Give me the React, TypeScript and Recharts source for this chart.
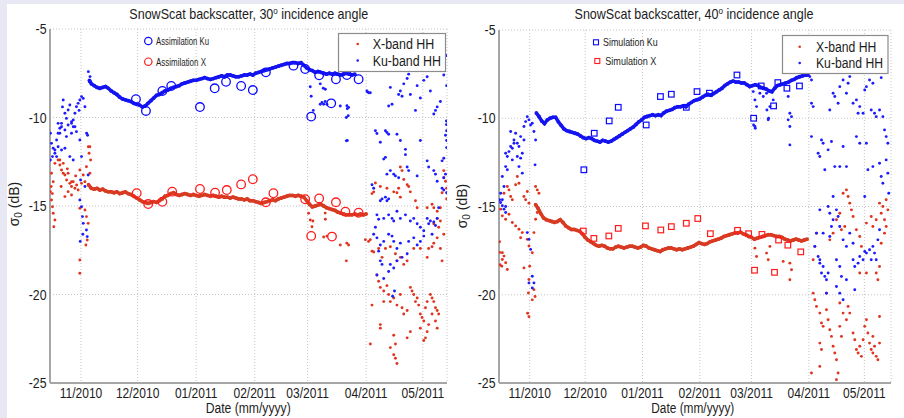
import React from 'react';
import { ScatterChart, Scatter, XAxis, YAxis, CartesianGrid, ReferenceLine } from 'recharts';

type P = [number, number];

// x = days since 2010-11-01, y = sigma0 (dB)
const monthTicks = [0, 30, 61, 92, 120, 151, 181];
const monthLabels = ['11/2010', '12/2010', '01/2011', '02/2011', '03/2011', '04/2011', '05/2011'];
const dbTicks = [-25, -20, -15, -10, -5];

// ---------------- 30 deg panel ----------------
const leftKuBand: P[] = [[4.5,-7.9],[5.5,-8.1],[7,-8.2],[8.5,-8.3],[10,-8.35],[11.5,-8.3],[13,-8.25],[14.5,-8.35],[16,-8.5],[17.5,-8.6],[19,-8.7],[20.5,-8.85],[22,-8.95],[23.5,-9.0],[25,-9.05],[26.5,-9.1],[28,-9.2],[29.5,-9.25],[31,-9.3],[32.5,-9.4],[34,-9.35],[35.5,-9.2],[37,-9.05],[38.5,-8.9],[40,-8.75],[41.5,-8.7],[43,-8.6],[44.5,-8.5],[46,-8.45],[47.5,-8.35],[49,-8.3],[50.5,-8.25],[52,-8.2],[53.5,-8.1],[55,-8.05],[56.5,-8.0],[58,-7.95],[59.5,-7.9],[61,-7.9],[62.5,-7.85],[64,-7.8],[65.5,-7.75],[67,-7.8],[68.5,-7.85],[70,-7.8],[71.5,-7.75],[73,-7.7],[74.5,-7.65],[76,-7.7],[77.5,-7.6],[79,-7.6],[80.5,-7.65],[82,-7.7],[83.5,-7.7],[85,-7.65],[86.5,-7.6],[88,-7.6],[89.5,-7.55],[91,-7.6],[92.5,-7.5],[94,-7.45],[95.5,-7.4],[97,-7.35],[98.5,-7.3],[100,-7.25],[101.5,-7.2],[103,-7.15],[104.5,-7.1],[106,-7.05],[107.5,-7.0],[109,-6.95],[110.5,-6.95],[112,-6.9],[113.5,-6.9],[115,-6.95],[116.5,-6.9],[118,-7.05],[119.5,-7.2],[121,-7.3],[122.5,-7.35],[124,-7.45],[125.5,-7.4],[127,-7.45],[128.5,-7.5],[130,-7.55],[131.5,-7.5],[133,-7.55],[134.5,-7.5],[136,-7.55],[137.5,-7.6],[139,-7.55],[140.5,-7.5],[142,-7.55],[143.5,-7.6],[145,-7.55]];

const leftXBand: P[] = [[4,-13.8],[5.5,-14.0],[7,-14.05],[8.5,-14.0],[10,-14.1],[11.5,-14.05],[13,-14.15],[14.5,-14.2],[16,-14.2],[17.5,-14.25],[19,-14.2],[20.5,-14.3],[22,-14.25],[23.5,-14.2],[25,-14.3],[26.5,-14.35],[28,-14.45],[29.5,-14.55],[31,-14.65],[32.5,-14.75],[34,-14.8],[35.5,-14.85],[37,-14.8],[38.5,-14.75],[40,-14.8],[41.5,-14.7],[43,-14.6],[44.5,-14.45],[46,-14.4],[47.5,-14.3],[49,-14.25],[50.5,-14.35],[52,-14.4],[53.5,-14.35],[55,-14.3],[56.5,-14.35],[58,-14.4],[59.5,-14.35],[61,-14.4],[62.5,-14.45],[64,-14.4],[65.5,-14.35],[67,-14.4],[68.5,-14.45],[70,-14.4],[71.5,-14.45],[73,-14.5],[74.5,-14.45],[76,-14.5],[77.5,-14.5],[79,-14.55],[80.5,-14.5],[82,-14.55],[83.5,-14.6],[85,-14.6],[86.5,-14.65],[88,-14.6],[89.5,-14.7],[91,-14.7],[92.5,-14.75],[94,-14.8],[95.5,-14.85],[97,-14.8],[98.5,-14.75],[100,-14.7],[101.5,-14.65],[103,-14.7],[104.5,-14.6],[106,-14.55],[107.5,-14.5],[109,-14.45],[110.5,-14.4],[112,-14.4],[113.5,-14.45],[115,-14.4],[116.5,-14.45],[118,-14.5],[119.5,-14.7],[121,-14.9],[122.5,-15.05],[124,-15.0],[125.5,-14.95],[127,-14.9],[128.5,-15.0],[130,-15.1],[131.5,-15.15],[133,-15.2],[134.5,-15.25],[136,-15.35],[137.5,-15.4],[139,-15.45],[140.5,-15.5],[142,-15.5],[143.5,-15.5],[145,-15.45],[146.5,-15.5],[148,-15.45],[149.5,-15.5],[151,-15.45]];

const leftKuScatter: P[] = [
  [-15.6,-11.46],[-14.7,-11.74],[-13.8,-12.02],[-15.1,-12.21],[-12.9,-11.27],[-12.1,-10.89],[-11.2,-10.61],[-10.3,-10.33],[-9.4,-9.01],[-8.5,-9.76],[-7.7,-10.05],[-6.8,-9.58],[-5.9,-9.29],[-5.0,-10.33],[-4.1,-10.14],[-3.2,-9.76],[-2.4,-9.39],[-1.5,-9.2],[-0.6,-9.01],[0.3,-8.82],[1.2,-8.92],[2.1,-9.39],[-3.2,-10.52],[-2.4,-10.8],[-7.7,-11.08],[-5.0,-10.89],[-0.6,-11.27],[3.0,-10.89],[3.9,-7.41],[4.8,-7.69],[4.4,-7.98],[-12.1,-11.65],[-10.3,-11.84],[-8.5,-11.74],[-5.9,-12.21],[-4.1,-12.4],[0.3,-12.21],[-16.2,-10.89],[-16.2,-12.4],
  [-12.1,-10.33],[-10.3,-10.52],[-8.5,-10.71],[-6.8,-10.42],[-5.0,-10.24],[-4.1,-10.52],[-11.2,-10.89],[-13.8,-11.84],[-12.9,-12.21],[-9.8,-9.4],[-1.0,-9.6],
  [-0.6,-14.66],[0.3,-15.04],[0.8,-15.6],[1.2,-15.98],[2.9,-16.36],[3.3,-16.73],[-0.2,-13.53],[2.1,-13.9],[3.5,-11.0],[3.8,-13.25],[1.0,-16.6],[-0.4,-17.0],
  [121.4,-8.26],[121.9,-8.8],[123,-9.6],[128.3,-8.35],[129.3,-9.1],[137.3,-9.35],[141,-9.5],[141.5,-9.9],[141,-11.3],[126.7,-9.25],[151.6,-8.55],[126.7,-8.1],[129.4,-8.4],[127.6,-9.15],[128.5,-9.25],[130.2,-9.25],[140.8,-9.34],[141.7,-9.43],[140.5,-10.0],[140.5,-11.32],
  [152.3,-8.6],[153.2,-8.6],[151.4,-8.5],[163.8,-8.3],[164.7,-9.25],[162.9,-9.35],[169.1,-8.5],[168.2,-8.7],[170,-8.8],[170.9,-8.1],[172.7,-7.8],[174.4,-8.7],[173.5,-7.55],[177.1,-9.6],[178,-8.2],[179.7,-8.9],[181.5,-7.9],[183.3,-7.7],[185,-8.5],[186.8,-9.8],[187.7,-9.6],[188.6,-9.4],[190.3,-9.1],[192.1,-7.6],[193.5,-10.2],[193.5,-10.4],[193.6,-10.75],[193,-11.0],[193.6,-11.3],[193.6,-11.7],[192.1,-12.3],[191.2,-12.45],[193,-13.2],[192.1,-13.4],[191.2,-14.0],[192.1,-14.1],[193.6,-14.25],[193.5,-6.5],[193.6,-8.2],
  [155.9,-10.75],[156.7,-10.9],[158.5,-11.4],[161.2,-10.75],[162,-10.85],[162.9,-10.95],[160.3,-12.35],[161.2,-12.25],[167.3,-10.95],[169.1,-11.3],[171.8,-11.8],[171.8,-12.1],[163.8,-13.0],[162,-13.2],[165.6,-13.2],[166.5,-13.3],[168.2,-13.4],[172.7,-12.8],[173.5,-13.0],[178,-13.3],[179.7,-11.3],[183.3,-12.45],[184.1,-12.8],[186.8,-13.0],[187.7,-13.2],[188.6,-13.6],
  [154.1,-13.8],[155,-14.0],[158.5,-14.7],[159.4,-14.6],[161.2,-14.5],[162,-14.7],[162.9,-14.6],[156.7,-15.5],[157.6,-15.75],[160.3,-15.7],[162.9,-15.5],[164.7,-15.7],[165.6,-15.85],[167.3,-15.3],[169.1,-15.7],[171.8,-15.5],[174.4,-15.85],[176.2,-15.7],[178,-16.0],[179.7,-16.2],[181.5,-16.4],[183.3,-15.7],[184.1,-16.0],[185,-15.85],[186.8,-15.9],[187.7,-16.1],[188.6,-15.7],[189.4,-15.1],[185.9,-16.6],
  [155.9,-16.2],[155,-16.6],[156.7,-16.8],[158.5,-17.2],[157.6,-17.55],[160.3,-17.0],[162.9,-16.6],[164.7,-16.7],[165.6,-17.0],[167.3,-17.4],[169.1,-17.1],[170,-17.9],[172.7,-17.7],[173.5,-17.0],[176.2,-16.8],[178,-17.2],[179.7,-17.0],[181.5,-16.7],[158.5,-18.1],[159.4,-18.3],[163.8,-18.3],[165.6,-18.5],[167.3,-18.1],[156.7,-18.9],[160.3,-19.1],[162.9,-18.7],[165,-20.1],[166,-19.8]
];

const leftXScatter: P[] = [
  [-12.1,-12.4],[-11.2,-12.68],[-10.3,-12.97],[-9.4,-12.59],[-8.5,-13.25],[-7.6,-13.53],[-6.8,-13.15],[-5.9,-13.72],[-5.0,-13.9],[-4.1,-13.63],[-3.2,-14.0],[-2.3,-13.81],[-1.5,-14.1],[-6.8,-14.19],[-5.0,-14.38],[-8.5,-14.47],[-13.8,-12.59],[-15.6,-13.15],[-14.7,-13.63],[-16.2,-14.19],[-15.6,-14.66],[-15.1,-15.04],[-14.7,-15.41],[-13.8,-15.79],[-14.4,-16.17],[4.7,-11.65],[4.3,-12.02],[5.1,-12.4],[4.7,-13.15],[2.9,-12.78],[1.2,-13.25],[0.3,-13.72],[-0.6,-12.97],[2.1,-15.23],[2.9,-15.6],[3.8,-15.98],[-0.6,-15.13],[-0.6,-18.05],[-0.6,-18.8],[2.6,-17.2],[3.3,-16.92],[-11.2,-12.4],[-9.4,-13.15],[-5.0,-13.63],[2.1,-13.63],[3.9,-11.65],[-15.8,-13.9],[-15.2,-14.3],[-10.5,-13.9],[-2.8,-13.3],[-7.2,-12.9],
  [120.5,-15.41],[121.4,-15.79],[122.3,-16.17],[129.3,-15.4],[122.8,-15.85],[129.4,-15.75],[137.3,-17.2],[140.8,-17.1],[141.7,-17.2],[140.5,-18.1],[128.5,-16.75],[130.2,-16.7],
  [169.1,-12.8],[170,-13.0],[170.9,-13.5],[172.7,-13.8],[173.5,-13.9],[168.2,-14.0],[167.3,-14.25],[169.1,-14.5],[158.5,-13.9],[155.9,-13.7],[155,-14.2],[154.1,-14.3],[162,-14.0],[165.6,-14.2],[174.4,-14.2],[177.1,-14.7],[178,-15.1],[183.3,-15.1],[185.9,-14.9],[186.8,-15.1],[188.6,-15.3],[190.3,-15.1],[192.1,-13.4],[193,-13.6],[193.6,-14.0],[192.1,-13.0],[191.2,-14.25],[193.6,-14.6],[150.6,-16.9],[152.3,-17.0],[153.2,-16.9],
  [154.1,-17.55],[155,-17.6],[157.6,-17.4],[159.4,-17.9],[161.2,-17.4],[163.8,-17.3],[166.5,-17.7],[167.3,-18.1],[169.1,-17.9],[170.9,-18.3],[172.7,-18.1],[176.2,-17.4],[179.7,-17.4],[183.3,-17.9],[184.1,-17.4],[185.9,-17.3],[186.8,-17.1],[188.6,-16.8],[189.4,-16.2],[190.3,-17.4],[191.2,-18.1],[192.1,-16.6],[190.3,-15.85],[188.6,-15.7],[186.8,-16.0],
  [156.7,-18.9],[157.6,-19.25],[158.5,-19.6],[160.3,-19.8],[162,-19.5],[162.9,-20.0],[163.8,-20.4],[165.6,-20.2],[167.3,-20.6],[169.1,-20.0],[170,-20.75],[170.9,-21.1],[172.7,-20.9],[174.4,-19.6],[175.3,-19.8],[176.2,-20.0],[177.1,-20.4],[178,-20.2],[178.8,-20.6],[179.7,-21.1],[180.6,-21.3],[181.5,-21.5],[182.4,-20.75],[183.3,-20.4],[184.1,-21.7],[185,-20.0],[185.9,-20.2],[186.8,-20.4],[187.7,-20.75],[188.6,-20.9],[189.4,-21.1],[187.7,-21.5],[188.6,-21.9],[185.9,-21.1],[183.3,-22.1],[182.4,-22.45],[181.5,-22.6],[179.7,-21.9],[174.4,-22.1],[172.7,-22.45],[165.6,-22.3],[166.5,-22.8],[165.6,-23.4],[166.5,-23.6],[167.3,-23.9],[163.8,-23.0],[158.5,-21.7],[158.5,-21.9],[154.1,-20.6],[153.2,-22.8],[160.3,-20.4]
];

const leftKuAssim: P[] = [[29.1,-8.97],[34.4,-9.63],[43.1,-8.5],[47.8,-8.22],[63,-9.41],[70.8,-8.35],[76.8,-7.98],[84.8,-8.22],[91,-8.45],[97.9,-7.45],[112.5,-7.07],[118.7,-7.26],[126.1,-7.62],[135,-7.84],[140.8,-7.6],[147,-7.84],[121.9,-9.95],[132.5,-9.2]];
const leftXAssim: P[] = [[29.5,-14.28],[35.6,-14.89],[43.1,-14.76],[48.3,-14.19],[63,-14.04],[71,-14.25],[77.2,-14.1],[84.8,-13.78],[91,-13.49],[97.9,-14.79],[101.9,-14.28],[118.7,-14.62],[126.1,-14.57],[135,-14.79],[121.9,-16.69],[132.9,-16.73],[140,-15.32],[147,-15.38]];

// ---------------- 40 deg panel ----------------
const rightKuBand: P[] = [[3.6,-9.7],[5,-9.9],[6.5,-10.15],[8,-10.3],[9.5,-10.1],[11,-10.0],[12.5,-9.95],[14,-9.95],[15.5,-10.2],[17,-10.4],[18.5,-10.6],[20,-10.7],[21.5,-10.75],[23,-10.8],[24.5,-10.85],[26,-10.9],[27.5,-11.0],[29,-11.1],[30.5,-11.15],[32,-11.1],[33.5,-11.15],[35,-11.25],[36.5,-11.3],[38,-11.35],[39.5,-11.25],[41,-11.3],[42.5,-11.35],[44,-11.3],[45.5,-11.2],[47,-11.1],[48.5,-11.0],[50,-10.9],[51.5,-10.8],[53,-10.7],[54.5,-10.6],[56,-10.5],[57.5,-10.35],[59,-10.2],[60.5,-10.1],[62,-9.95],[63.5,-9.9],[65,-9.85],[66.5,-9.8],[68,-9.85],[69.5,-9.8],[71,-9.85],[72.5,-9.7],[74,-9.6],[75.5,-9.55],[77,-9.5],[78.5,-9.4],[80,-9.35],[81.5,-9.35],[83,-9.3],[84.5,-9.35],[86,-9.2],[87.5,-9.1],[89,-9.0],[90.5,-8.95],[92,-8.9],[93.5,-8.8],[95,-8.7],[96.5,-8.65],[98,-8.7],[99.5,-8.6],[101,-8.5],[102.5,-8.4],[104,-8.3],[105.5,-8.15],[107,-8.05],[108.5,-7.95],[110,-7.9],[111.5,-7.95],[113,-7.95],[114.5,-8.0],[116,-8.0],[117.5,-8.1],[119,-8.2],[120.5,-8.15],[122,-8.1],[123.5,-8.15],[125,-8.25],[126.5,-8.3],[128,-8.35],[129.5,-8.45],[131,-8.5],[132.5,-8.3],[134,-8.15],[135.5,-8.1],[137,-8.05],[138.5,-8.0],[140,-7.95],[141.5,-7.85],[143,-7.8],[144.5,-7.7],[146,-7.65],[147.5,-7.6],[149,-7.55],[150.5,-7.55]];

const rightXBand: P[] = [[3.2,-14.9],[4.5,-15.1],[6,-15.4],[7.5,-15.65],[9,-15.75],[10.5,-15.8],[12,-15.85],[13.5,-15.9],[15,-15.85],[16.5,-15.75],[18,-15.9],[19.5,-16.1],[21,-16.2],[22.5,-16.3],[24,-16.3],[25.5,-16.35],[27,-16.4],[28.5,-16.55],[30,-16.75],[31.5,-16.9],[33,-17.0],[34.5,-17.1],[36,-17.2],[37.5,-17.25],[39,-17.2],[40.5,-17.25],[42,-17.35],[43.5,-17.4],[45,-17.4],[46.5,-17.3],[48,-17.25],[49.5,-17.3],[51,-17.35],[52.5,-17.3],[54,-17.25],[55.5,-17.25],[57,-17.3],[58.5,-17.35],[60,-17.3],[61.5,-17.2],[63,-17.25],[64.5,-17.35],[66,-17.4],[67.5,-17.45],[69,-17.5],[70.5,-17.55],[72,-17.45],[73.5,-17.4],[75,-17.35],[76.5,-17.35],[78,-17.4],[79.5,-17.45],[81,-17.4],[82.5,-17.45],[84,-17.4],[85.5,-17.35],[87,-17.3],[88.5,-17.25],[90,-17.15],[91.5,-17.05],[93,-17.1],[94.5,-17.15],[96,-17.1],[97.5,-17.0],[99,-16.95],[100.5,-16.9],[102,-16.85],[103.5,-16.8],[105,-16.7],[106.5,-16.65],[108,-16.6],[109.5,-16.55],[111,-16.5],[112.5,-16.5],[114,-16.45],[115.5,-16.55],[117,-16.6],[118.5,-16.7],[120,-16.75],[121.5,-16.85],[123,-16.8],[124.5,-16.75],[126,-16.7],[127.5,-16.65],[129,-16.6],[130.5,-16.6],[132,-16.65],[133.5,-16.7],[135,-16.7],[136.5,-16.75],[138,-16.85],[139.5,-16.9],[141,-16.95],[142.5,-16.9],[144,-16.85],[145.5,-16.9],[147,-16.95],[148.5,-16.9],[150,-16.85]];

const rightKuScatter: P[] = [
  [-13.0,-11.98],[-12.1,-12.17],[-11.2,-11.89],[-10.3,-11.6],[-9.4,-11.7],[-8.5,-11.23],[-7.6,-10.85],[-6.7,-11.42],[-5.8,-11.6],[-4.9,-12.26],[-4.0,-11.98],[-3.1,-10.47],[-2.2,-10.19],[-1.3,-9.91],[-0.4,-10.09],[0.5,-10.38],[1.4,-10.28],[2.3,-10.75],[3.2,-11.23],[-10.3,-10.75],[-8.5,-11.42],[-13.0,-12.74],[-12.1,-12.92],[-14.8,-13.3],[-13.9,-13.87],[-15.7,-14.25],[-16.3,-14.62],[-5.8,-12.74],[-4.0,-13.11],[2.9,-12.64],[-9.4,-12.36],[-6.7,-12.17],[-4.9,-11.04],[-3.1,-11.23],[-14.8,-14.62],[-13.0,-15.0],
  [-15.7,-14.77],[-14.8,-14.96],[-13.9,-15.15],[-13.0,-15.34],[-1.3,-16.48],[-0.4,-16.86],[0.5,-17.43],[1.4,-18.95],[2.3,-19.33],[1.4,-19.62],[-0.4,-19.33],
  [120.9,-8.49],[121.8,-8.96],[122.7,-9.34],[124.5,-8.58],[126.3,-8.77],[128.1,-8.58],[129,-10.09],[129.9,-9.34],[131.7,-8.96],[140.7,-9.72],[141.6,-9.91],[139.8,-10.09],[140.7,-10.47],[140.7,-11.51],[139.8,-8.77],[121.8,-10.47],[121.1,-10.38],[122,-10.57],[128.3,-9.53],[129.2,-10.0],
  [151.5,-7.64],[152.4,-9.15],[153.3,-9.34],[152.4,-7.83],[162.3,-9.53],[164.1,-8.58],[165,-8.77],[166.8,-9.15],[167.7,-8.21],[169.5,-7.83],[171.3,-8.58],[172.2,-8.02],[173.1,-7.64],[174.9,-9.15],[176.7,-8.96],[177.6,-9.72],[178.5,-9.34],[180.3,-9.72],[181.2,-8.4],[182.1,-8.21],[183.8,-7.83],[184.7,-9.53],[185.6,-8.02],[186.5,-9.72],[187.4,-9.91],[189.2,-9.53],[190.1,-7.7],[191,-9.91],[191.9,-10.66],[192.8,-11.04],[193.7,-11.42],
  [152.4,-11.04],[156,-11.98],[156.9,-12.17],[157.8,-11.23],[158.7,-11.42],[159.6,-12.92],[161.4,-11.79],[163.2,-11.32],[165,-12.74],[167.7,-12.74],[169.5,-11.6],[171.3,-12.74],[176.7,-11.04],[178.5,-11.42],[182.1,-11.42],[182.9,-12.92],[185.6,-12.74],[189.2,-12.55],[190.1,-13.3],[191,-13.68],[192.8,-12.36],[193.7,-13.11],[194.2,-14.25],[181.2,-14.43],
  [154.2,-17.26],[156,-17.83],[156.9,-18.02],[158.7,-18.4],[157.8,-18.77],[159.6,-18.96],[160.5,-19.15],[161.4,-18.77],[162.3,-16.7],[163.2,-16.13],[164.1,-15.75],[162.3,-15.38],[161.4,-15.0],[164.1,-14.43],[165.9,-15.19],[166.8,-15.57],[167.7,-16.13],[169.5,-16.89],[171.3,-17.26],[173.1,-16.51],[174.9,-17.08],[174.9,-18.02],[175.8,-18.4],[177.6,-18.21],[178.5,-17.83],[180.3,-18.02],[181.2,-17.55],[182.1,-17.64],[183.8,-17.45],[184.7,-18.02],[185.6,-17.26],[186.5,-17.64],[187.4,-18.02],[188.3,-16.89],[189.2,-16.32],[158.7,-16.51],[156.9,-15.19],[155.1,-16.51],[165.9,-18.02],[167.7,-18.4],[168.6,-18.96],[165.9,-19.53],[167.7,-19.91],[169.5,-20.28],[171.3,-19.15],[175.8,-19.72],[156.9,-18.21],[160.5,-19.91]
];

const rightXScatter: P[] = [
  [-13.9,-14.25],[-12.1,-13.87],[-11.2,-14.06],[-10.3,-14.43],[-9.4,-14.62],[-7.6,-13.77],[-6.7,-13.3],[-5.8,-13.68],[-3.1,-14.43],[-2.2,-14.62],[-1.3,-14.15],[-0.4,-14.81],[3.2,-13.87],[4.1,-14.06],[5.0,-14.25],
  [-15.7,-15.15],[-14.8,-15.53],[-13.0,-15.72],[-11.2,-15.44],[-9.4,-15.91],[-7.6,-16.1],[-5.8,-16.29],[-4.0,-16.48],[-14.8,-17.62],[-13.9,-17.81],[-14.8,-18.0],[-15.1,-18.38],[-13.0,-18.19],[-12.1,-18.57],[-1.3,-16.86],[-0.4,-17.24],[1.4,-17.62],[2.3,-16.48],[3.2,-15.72],[4.1,-15.34],[0,-18.38],[-0.4,-19.14],[-0.7,-19.9],[-1.1,-21.05],[-0.4,-21.24],[2.3,-19.71],[2.9,-20.1],[1.4,-20.29],[-3.1,-18.48],[-4.9,-16.77],[-16.3,-17.0],[-16.2,-17.6],[-16.0,-18.3],
  [121.8,-17.36],[122.7,-17.83],[128.1,-17.64],[129,-18.02],[129.9,-17.26],[137.1,-18.11],[140.7,-18.21],[141.6,-18.58],[140.7,-19.15],
  [171.3,-14.06],[172.2,-14.43],[173.1,-14.81],[174,-15.19],[174.9,-15.57],[169.5,-14.25],[167.7,-15.38],[165.9,-15.75],[168.6,-16.32],[170.4,-16.13],[164.1,-16.51],[162.3,-16.89],[155.1,-16.51],[154.2,-17.26],[153.3,-18.02],[176.7,-16.32],[178.5,-16.7],[179.4,-17.26],[182.1,-15.94],[184.7,-15.57],[185.6,-16.13],[187.4,-15.75],[189.2,-14.81],[190.1,-15.38],[191,-15.0],[191.9,-15.75],[192.8,-14.62],[193.7,-15.19],[192.8,-16.13],[191.9,-16.51],[190.1,-17.08],[189.2,-18.4],[188.3,-19.15],[187.4,-18.77],[182.1,-18.77],[178.5,-18.77],
  [153.3,-19.91],[154.2,-20.28],[155.1,-20.66],[156.9,-21.04],[157.8,-21.6],[158.7,-21.79],[156.9,-22.74],[157.8,-23.1],[160.5,-20.85],[161.4,-21.42],[162.3,-21.98],[163.2,-22.36],[164.1,-22.92],[165,-23.3],[165.9,-23.68],[166.8,-24.43],[165.9,-24.81],[167.7,-21.79],[168.6,-22.36],[169.5,-21.04],[171.3,-21.42],[172.2,-20.66],[173.1,-21.04],[174.9,-22.17],[175.8,-22.55],[176.7,-23.1],[177.6,-23.3],[178.5,-22.92],[179.4,-23.49],[180.3,-22.55],[181.2,-21.79],[182.1,-21.42],[182.9,-22.17],[183.8,-22.74],[184.7,-23.1],[185.6,-23.3],[186.5,-22.92],[187.4,-23.49],[188.3,-23.68],[185.6,-22.36],[189.2,-22.74],[189.2,-21.23],[156.9,-24.06],[152.4,-24.43],[167.7,-20.47],[160.5,-19.91]
];

const rightKuSim: P[] = [[29.3,-12.92],[34.9,-10.85],[43.0,-10.15],[47.9,-9.38],[63.0,-10.38],[70.7,-8.77],[76.6,-8.64],[84.7,-9.38],[90.5,-8.49],[97.2,-8.58],[112.1,-7.55],[121.1,-10.0],[125.2,-8.17],[131.9,-9.3],[134.2,-7.98],[139.1,-8.3],[145.9,-8.17]];
const rightXSim: P[] = [[29.0,-16.39],[34.7,-16.81],[42.8,-16.67],[47.9,-16.24],[62.6,-16.1],[70.9,-16.33],[76.6,-16.14],[84.7,-15.95],[90.9,-15.68],[97.7,-16.54],[112.4,-16.35],[118.4,-16.54],[125.6,-16.58],[121.6,-18.61],[132.4,-18.73],[134.6,-16.9],[139.6,-17.19],[146.6,-17.57]];

// ---------------- styling ----------------
const FONT = "'Liberation Sans', Arial, Helvetica, sans-serif";
const BLUE = '#1c1cff';
const RED = '#e0341f';
const BLUE_BAND = '#1414f0';
const RED_BAND = '#d83a22';
const CIRC_BLUE = '#0a0aff';
const CIRC_RED = '#ff1c1c';

const toRows = (arr: P[]) => arr.map(([x, y]) => ({ x, y }));

const dotShape = (color: string, r: number) => (p: any) => (
  <circle cx={p.cx} cy={p.cy} r={r} fill={color} />
);
const ringShape = (color: string) => (p: any) => (
  <circle cx={p.cx} cy={p.cy} r={4.3} fill="none" stroke={color} strokeWidth={1.3} />
);
const squareShape = (color: string) => (p: any) => (
  <rect x={p.cx - 2.8} y={p.cy - 2.8} width={5.6} height={5.6} fill="none" stroke={color} strokeWidth={1.2} />
);

interface PanelProps {
  left: number;
  margin: { top: number; right: number; bottom: number; left: number };
  domain: [number, number];
  kuBand: P[];
  xBand: P[];
  kuScatter: P[];
  xScatter: P[];
  kuMarks: P[];
  xMarks: P[];
  squares: boolean;
}

function Panel(props: PanelProps) {
  const { left, margin, domain, kuBand, xBand, kuScatter, xScatter, kuMarks, xMarks, squares } = props;
  const plotLeft = margin.left + 40;
  const XTick = (p: any) => {
    const i = monthTicks.indexOf(p.payload.value);
    return (
      <text transform={`translate(${p.x},398) scale(0.86,1)`} textAnchor="middle" fontSize={14} fontFamily={FONT} fill="#1c1c1c">
        {i >= 0 ? monthLabels[i] : ''}
      </text>
    );
  };
  const YTick = (p: any) => (
    <text transform={`translate(${plotLeft - 3.5},${p.y + 5}) scale(0.88,1)`} textAnchor="end" fontSize={14} fontFamily={FONT} fill="#1c1c1c">
      {String(p.payload.value)}
    </text>
  );
  return (
    <div style={{ position: 'absolute', left, top: 0, width: 452, height: 418 }}>
      <ScatterChart width={452} height={418} margin={margin}>
        <CartesianGrid stroke="#c4c4c4" strokeDasharray="1 2" />
        <XAxis
          type="number"
          dataKey="x"
          domain={domain}
          ticks={monthTicks}
          interval={0}
          allowDataOverflow
          height={25}
          tickLine={false}
          axisLine={{ stroke: '#a6a6a6', strokeWidth: 2 }}
          tick={XTick}
        />
        <YAxis
          type="number"
          dataKey="y"
          domain={[-25, -5]}
          ticks={dbTicks}
          interval={0}
          allowDataOverflow
          width={40}
          tickLine={false}
          axisLine={{ stroke: '#a6a6a6', strokeWidth: 2 }}
          tick={YTick}
        />
        <ReferenceLine segment={[{ x: 30, y: -25 }, { x: 151, y: -25 }]} stroke="#5a5a5a" strokeWidth={2} ifOverflow="visible" />
        <Scatter data={toRows(xScatter)} fill={RED} shape={dotShape(RED, 1.45)} isAnimationActive={false} />
        <Scatter data={toRows(kuScatter)} fill={BLUE} shape={dotShape(BLUE, 1.45)} isAnimationActive={false} />
        <Scatter data={toRows(xBand)} fill={RED_BAND} line={{ stroke: RED_BAND, strokeWidth: 3.5 }} shape={dotShape(RED_BAND, 1.9)} isAnimationActive={false} />
        <Scatter data={toRows(kuBand)} fill={BLUE_BAND} line={{ stroke: BLUE_BAND, strokeWidth: 3.5 }} shape={dotShape(BLUE_BAND, 1.9)} isAnimationActive={false} />
        <Scatter data={toRows(kuMarks)} fill="none" shape={squares ? squareShape(CIRC_BLUE) : ringShape(CIRC_BLUE)} isAnimationActive={false} />
        <Scatter data={toRows(xMarks)} fill="none" shape={squares ? squareShape(CIRC_RED) : ringShape(CIRC_RED)} isAnimationActive={false} />
      </ScatterChart>
    </div>
  );
}

const txt = { fontFamily: FONT, fill: '#1c1c1c' } as const;

function Overlay() {
  return (
    <svg width={904} height={418} style={{ position: 'absolute', left: 0, top: 0, pointerEvents: 'none' }}>
      {/* titles */}
      <text transform="translate(248.8,19) scale(0.895,1)" textAnchor="middle" fontSize={14} {...txt}>
        SnowScat backscatter, 30<tspan fontSize={9} dy={-5}>o</tspan><tspan dy={5}> incidence angle</tspan>
      </text>
      <text transform="translate(694,19) scale(0.895,1)" textAnchor="middle" fontSize={14} {...txt}>
        SnowScat backscatter, 40<tspan fontSize={9} dy={-5}>o</tspan><tspan dy={5}> incidence angle</tspan>
      </text>
      {/* x labels */}
      <text x={205.7} y={413} fontSize={14} textLength={85} lengthAdjust="spacingAndGlyphs" {...txt}>Date (mm/yyyy)</text>
      <text x={651.3} y={413} fontSize={14} textLength={83} lengthAdjust="spacingAndGlyphs" {...txt}>Date (mm/yyyy)</text>
      {/* y labels */}
      <text transform="translate(18.5,204) rotate(-90)" textAnchor="middle" fontSize={14} {...txt}>
        σ<tspan fontSize={10} dy={3}>0</tspan><tspan dy={-3}> (dB)</tspan>
      </text>
      <text transform="translate(467,206) rotate(-90)" textAnchor="middle" fontSize={14} {...txt}>
        σ<tspan fontSize={10} dy={3}>0</tspan><tspan dy={-3}> (dB)</tspan>
      </text>
      {/* legends */}
      <rect x={338.5} y={33.5} width={107} height={38} fill="#fff" stroke="#8c8c8c" strokeWidth={1.2} />
      <circle cx={357.7} cy={44} r={1.3} fill={RED} />
      <circle cx={357.7} cy={60.5} r={1.3} fill={BLUE} />
      <text x={372.7} y={49} fontSize={14} textLength={61.7} lengthAdjust="spacingAndGlyphs" {...txt}>X-band HH</text>
      <text x={372.7} y={65.5} fontSize={14} textLength={68.3} lengthAdjust="spacingAndGlyphs" {...txt}>Ku-band HH</text>

      <rect x={782.5} y={35.5} width={105.5} height={38} fill="#fff" stroke="#8c8c8c" strokeWidth={1.2} />
      <circle cx={799.7} cy={46.7} r={1.3} fill={RED} />
      <circle cx={799.7} cy={63} r={1.3} fill={BLUE} />
      <text x={816} y={51.5} fontSize={14} textLength={60.3} lengthAdjust="spacingAndGlyphs" {...txt}>X-band HH</text>
      <text x={816} y={68} fontSize={14} textLength={67} lengthAdjust="spacingAndGlyphs" {...txt}>Ku-band HH</text>

      {/* annotations */}
      <circle cx={148.3} cy={41} r={3.7} fill="none" stroke={CIRC_BLUE} strokeWidth={1.2} />
      <text x={156} y={45} fontSize={10.5} textLength={53} lengthAdjust="spacingAndGlyphs" {...txt}>Assimilation Ku</text>
      <circle cx={148.3} cy={61.7} r={3.7} fill="none" stroke={CIRC_RED} strokeWidth={1.2} />
      <text x={156} y={65.5} fontSize={10.5} textLength={50} lengthAdjust="spacingAndGlyphs" {...txt}>Assimilation X</text>

      <rect x={593.5} y={39.8} width={5} height={5} fill="none" stroke={CIRC_BLUE} strokeWidth={1.1} />
      <text x={603} y={46} fontSize={10.5} textLength={54.7} lengthAdjust="spacingAndGlyphs" {...txt}>Simulation Ku</text>
      <rect x={594.8} y={58.5} width={5} height={5} fill="none" stroke={CIRC_RED} strokeWidth={1.1} />
      <text x={605.3} y={65} fontSize={10.5} textLength={51} lengthAdjust="spacingAndGlyphs" {...txt}>Simulation X</text>
    </svg>
  );
}

export default function App() {
  return (
    <div style={{ position: 'absolute', left: 0, top: 0, width: 904, height: 418, background: '#e8e8f4', overflow: 'hidden' }}>
      <div style={{ position: 'absolute', left: 7, top: 4, width: 897, height: 414, background: '#ffffff' }} />
      <Panel
        left={0}
        margin={{ top: 29, right: 5, bottom: 10, left: 10 }}
        domain={[-16.4, 193.8]}
        kuBand={leftKuBand}
        xBand={leftXBand}
        kuScatter={leftKuScatter}
        xScatter={leftXScatter}
        kuMarks={leftKuAssim}
        xMarks={leftXAssim}
        squares={false}
      />
      <Panel
        left={452}
        margin={{ top: 30, right: 13, bottom: 10, left: 7 }}
        domain={[-16.6, 195.4]}
        kuBand={rightKuBand}
        xBand={rightXBand}
        kuScatter={rightKuScatter}
        xScatter={rightXScatter}
        kuMarks={rightKuSim}
        xMarks={rightXSim}
        squares={true}
      />
      <Overlay />
    </div>
  );
}
